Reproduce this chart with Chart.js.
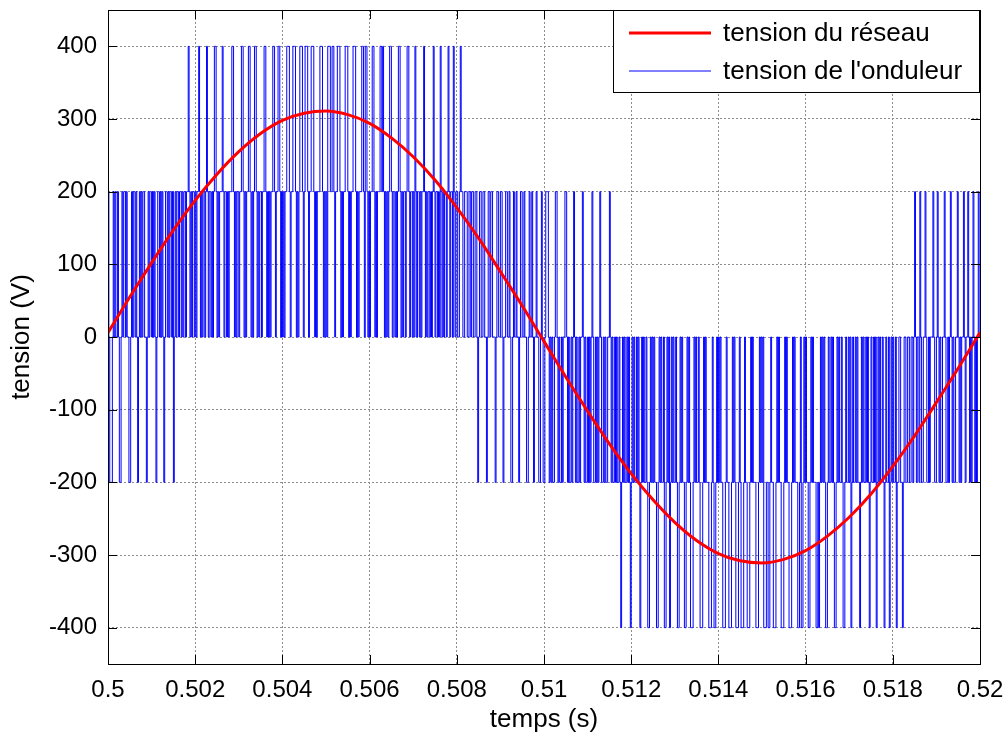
<!DOCTYPE html>
<html>
<head>
<meta charset="utf-8">
<script src="https://cdn.jsdelivr.net/npm/chart.js@4.4.1/dist/chart.umd.min.js"></script>
<style>
  html, body { margin: 0; padding: 0; background: #fff; }
  #wrap { width: 1008px; height: 737px; }
</style>
</head>
<body>
<div id="wrap"><canvas id="c" width="1008" height="737"></canvas></div>
<script>
// axes
const tMin = 0.5, tMax = 0.52;
const xTicks = [0.5, 0.502, 0.504, 0.506, 0.508, 0.51, 0.512, 0.514, 0.516, 0.518, 0.52];
const xTickLabels = ['0.5', '0.502', '0.504', '0.506', '0.508', '0.51', '0.512', '0.514', '0.516', '0.518', '0.52'];
const yTicks = [400, 300, 200, 100, 0, -100, -200, -300, -400];
const yTickLabels = ['400', '300', '200', '100', '0', '-100', '-200', '-300', '-400'];

// tension du réseau, relevée toutes les 0.5 ms
const reseauStep = 0.0005;
const reseauV = [6, 55, 102, 147, 188, 224, 255, 280, 298, 308, 311, 306, 294, 274, 248, 216, 178, 136, 90, 43,
  -6, -55, -102, -147, -188, -224, -255, -280, -298, -308, -311, -306, -294, -274, -248, -216, -178, -136, -90, -43, 6];

// tension de l'onduleur : un niveau toutes les 20 us (0..4 -> -400..400 V), une ligne par ms
const ondStep = 0.00002;
const ondLevels = [-400, -200, 0, 200, 400];
const ondCodes = [
  '3211123232 2321123233 2322112323 3232123232 3322123233',
  '2323212332 3232123323 2332312323 3233232332 3343232332',
  '3233432323 3234323323 2344323233 3432332323 3344323233',
  '2334432323 3443232344 3232332334 4323232334 4323344323',
  '2323344432 3344432323 4443234443 2334443232 3334443232',
  '3244433443 2334443232 3344432323 3444323233 3443244323',
  '2334432323 3344343232 3234432332 3234432323 3234432332',
  '3243233232 3343232332 3234323323 2432323323 4323324323',
  '3223433223 3322332332 2332123322 3322123323 3222123322',
  '3321223322 3211232232 2123322322 1123223212 2322112321',
  '1233321212 1123321211 2122332121 1212321211 2122321211',
  '2121232112 1212321121 2112232121 1212112101 2121121210',
  '1212112121 0121211210 0121212110 0121211200 1212012121',
  '1210012121 1001212100 0121211210 0012121110 0012100121',
  '2121100012 1100012121 0001210001 2110001212 1110001212',
  '1200011001 2110001212 1100012121 1000121211 1001200121',
  '2110012121 1100101212 1210012112 1210012121 1210012112',
  '1201211212 1101212112 1210121121 2012121121 0121120121',
  '2112011221 1012211221 1221232122 1321122321 1212223211',
  '2321211223 2112123212 1122321212 2321223212 1232121232'
];

const codes = ondCodes.join('').replace(/\s/g, '');
const ondData = [];
for (let i = 0; i < codes.length; i++) ondData.push({ x: tMin + i * ondStep, y: ondLevels[+codes[i]] });
ondData.push({ x: tMax, y: ondData[ondData.length - 1].y });
const reseauData = reseauV.map((v, k) => ({ x: tMin + k * reseauStep, y: v }));

const family = "'Liberation Sans', Arial, sans-serif";
const tickFont = { family, size: 24 };
const titleFont = { family, size: 26 };

// cadre noir, graduations vers l'intérieur, légende en haut à droite
const cadre = {
  id: 'cadre',
  afterDatasetsDraw(chart) {
    const { ctx, chartArea: a, scales } = chart;
    const tl = 9;
    ctx.save();
    ctx.strokeStyle = '#000';
    ctx.lineWidth = 1;
    ctx.beginPath();
    xTicks.forEach(v => {
      const x = Math.round(scales.x.getPixelForValue(v)) + 0.5;
      ctx.moveTo(x, a.bottom); ctx.lineTo(x, a.bottom - tl);
      ctx.moveTo(x, a.top); ctx.lineTo(x, a.top + tl);
    });
    yTicks.forEach(v => {
      const y = Math.round(scales.y.getPixelForValue(v)) + 0.5;
      ctx.moveTo(a.left, y); ctx.lineTo(a.left + tl, y);
      ctx.moveTo(a.right, y); ctx.lineTo(a.right - tl, y);
    });
    ctx.stroke();
    ctx.strokeRect(Math.round(a.left) + 0.5, Math.round(a.top) + 0.5, Math.round(a.right - a.left), Math.round(a.bottom - a.top));
    ctx.restore();
  },
  afterDraw(chart) {
    const { ctx, chartArea: a } = chart;
    const w = 366, h = 82;
    const x0 = Math.round(a.right) - 1 - w, y0 = Math.round(a.top);
    ctx.save();
    ctx.fillStyle = '#fff';
    ctx.fillRect(x0, y0, w, h);
    ctx.strokeStyle = '#000';
    ctx.lineWidth = 1;
    ctx.strokeRect(x0 + 0.5, y0 + 0.5, w, h);
    ctx.font = `${titleFont.size}px ${family}`;
    ctx.textBaseline = 'middle';
    ctx.fillStyle = '#000';
    chart.data.datasets.forEach((ds, i) => {
      const y = y0 + 23 + i * 38;
      ctx.strokeStyle = ds.borderColor;
      ctx.lineWidth = ds.borderWidth;
      ctx.beginPath();
      ctx.moveTo(x0 + 16, y); ctx.lineTo(x0 + 98, y);
      ctx.stroke();
      ctx.fillText(ds.label, x0 + 110, y + 1);
    });
    ctx.restore();
  }
};

new Chart(document.getElementById('c'), {
  type: 'line',
  data: {
    datasets: [
      { label: 'tension du réseau', data: reseauData, borderColor: '#ff0000', borderWidth: 3,
        pointRadius: 0, cubicInterpolationMode: 'monotone', fill: false },
      { label: "tension de l'onduleur", data: ondData, borderColor: '#0000ff', borderWidth: 1,
        pointRadius: 0, stepped: true, fill: false }
    ]
  },
  options: {
    responsive: false,
    animation: false,
    devicePixelRatio: 1,
    layout: { padding: { top: 10, right: 28, left: 0, bottom: 0 } },
    plugins: { legend: { display: false }, tooltip: { enabled: false } },
    scales: {
      x: {
        type: 'linear', min: tMin, max: tMax,
        afterBuildTicks: s => { s.ticks = xTicks.map(v => ({ value: v })); },
        afterFit: s => { s.height = 73; s.paddingLeft = 0; s.paddingRight = 0; },
        ticks: { callback: (v, i) => xTickLabels[i], font: tickFont, color: '#000', padding: 12, maxRotation: 0, autoSkip: false },
        grid: { color: '#8c8c8c', lineWidth: 1, drawTicks: false },
        border: { display: false, dash: [2, 2] },
        title: { display: true, text: 'temps (s)', font: titleFont, color: '#000', padding: { top: 0, bottom: 2 } }
      },
      y: {
        type: 'linear', min: -450, max: 450,
        afterBuildTicks: s => { s.ticks = yTicks.map(v => ({ value: v })); },
        afterFit: s => { s.width = 108; s.paddingTop = 0; s.paddingBottom = 0; },
        ticks: { callback: (v, i) => yTickLabels[i], font: tickFont, color: '#000', padding: 11, autoSkip: false },
        grid: { color: '#8c8c8c', lineWidth: 1, drawTicks: false },
        border: { display: false, dash: [2, 2] },
        title: { display: true, text: 'tension (V)', font: titleFont, color: '#000', padding: { top: 6, bottom: 0 } }
      }
    }
  },
  plugins: [cadre]
});
</script>
</body>
</html>
